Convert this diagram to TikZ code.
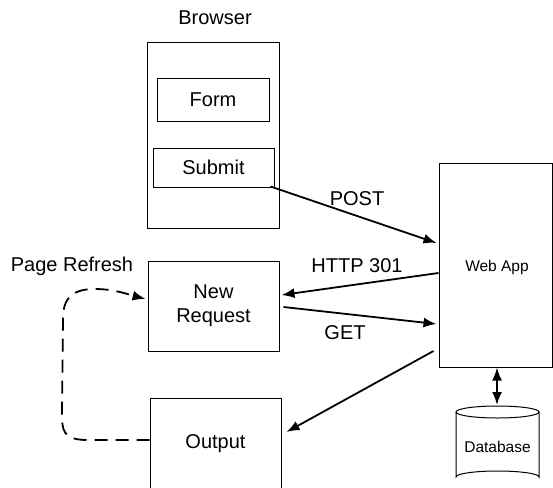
\documentclass[tikz,border=0pt]{standalone}
\usepackage{fontspec}
\setmainfont{Liberation Sans}
\usetikzlibrary{arrows.meta,calc}
\begin{document}
\begin{tikzpicture}[x=1pt,y=-1pt,
  box/.style={draw,line width=1pt,inner sep=0pt,align=center,font=\fontsize{20}{24}\selectfont},
  lbl/.style={inner sep=0pt,font=\fontsize{20}{24}\selectfont},
  small/.style={inner sep=0pt,font=\fontsize{15.5}{18}\selectfont},
  arr/.style={line width=1.8pt,-{Latex[length=13pt,width=10pt]}},
  dasharr/.style={line width=1.8pt,dash pattern=on 13pt off 8pt,-{Latex[length=13pt,width=10pt]}}]
\useasboundingbox (0,0) rectangle (553,487);
\node[lbl] (browserlbl) at (215,18) {Browser};
\node[box,minimum width=132,minimum height=185] (browser) at (213,135.5) {};
\node[box,minimum width=112,minimum height=43] (form) at (213,99.5) {Form};
\node[box,minimum width=121,minimum height=39] (submit) at (213.5,167.5) {Submit};
\node[box,minimum width=131,minimum height=90] (newreq) at (213.5,306) {New\\Request};
\node[box,minimum width=131,minimum height=92] (output) at (215.5,444) {Output};
\node[draw,line width=1pt,minimum width=113,minimum height=204] (webapp) at (495.5,265) {};
\node[small] (webapplbl) at (497,267) {Web App};
\node[lbl] (refresh) at (72,266) {Page Refresh};
\node[lbl] (post) at (357,199) {POST};
\node[lbl] (http) at (357,266) {HTTP 301};
\node[lbl] (get) at (345,333) {GET};
% database
\draw[line width=1pt] (456,412) -- (456,477) arc[start angle=180,end angle=360,x radius=41.5,y radius=6] -- (539,412);
\draw[line width=1pt] (497.5,412) ellipse[x radius=41.5,y radius=6];
\node[small] (db) at (497.5,447) {Database};
\coordinate (dbtop) at (497,405);
% arrows
\draw[arr] ($(submit.south east)+(-4,-1)$) -- ($(webapp.west)+(-2,-22)$);
\draw[arr] ($(webapp.west)+(0,8)$) -- ($(newreq.east)+(2,-11)$);
\draw[arr] ($(newreq.east)+(4,1)$) -- ($(webapp.west)+(-2,59)$);
\draw[arr] ($(webapp.west)+(-5,86)$) -- ($(output.east)+(5,-12)$);
\draw[line width=1.8pt,{Latex[length=13pt,width=10pt]}-{Latex[length=13pt,width=10pt]}] (webapp.south -| dbtop) -- (dbtop);
\draw[dasharr] ($(output.west)+(0,-4)$) -- (88,440) .. controls (62,440) and (62,430) .. (62,412) -- (63,318) .. controls (63,296) and (75,289) .. (95,289) .. controls (115,289) and (130,295) .. ($(newreq.west)+(-2,-7)$);
\end{tikzpicture}
\end{document}
